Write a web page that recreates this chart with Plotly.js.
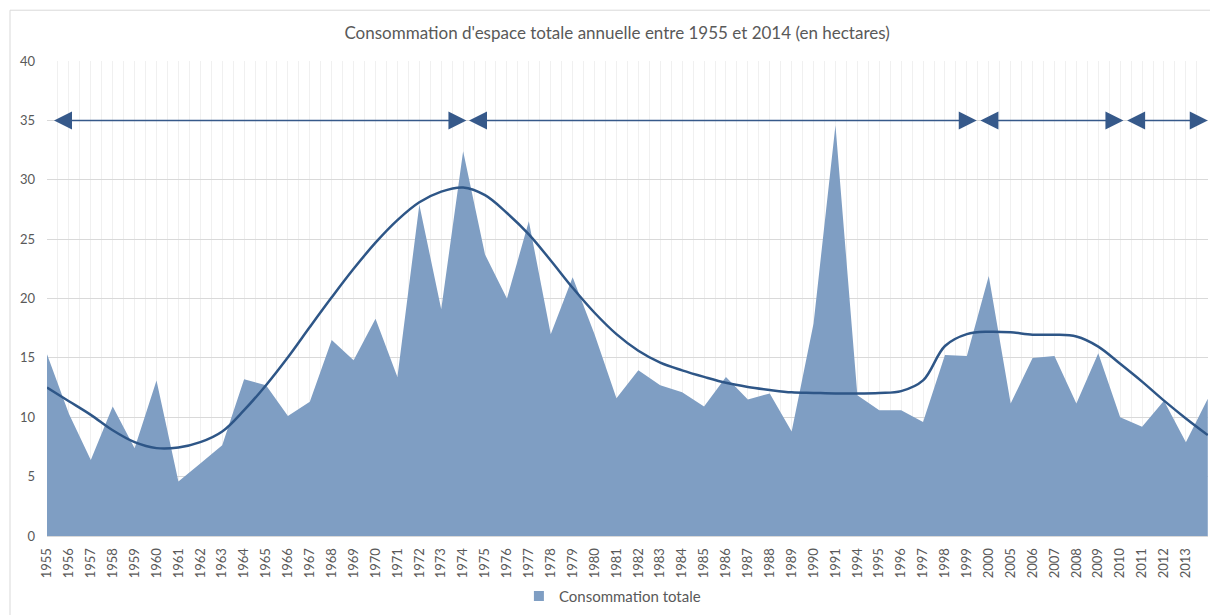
<!DOCTYPE html>
<html>
<head>
<meta charset="utf-8">
<script src="https://cdn.plot.ly/plotly-3.0.1.min.js"></script>
<style>
  html, body { margin: 0; padding: 0; background: #fff; }
  #graph_container { width: 1210px; height: 615px; }
</style>
</head>
<body>
<div id="graph_container"></div>
<script>
var years = ['1955','1956','1957','1958','1959','1960','1961','1962','1963','1964',
  '1965','1966','1967','1968','1969','1970','1971','1972','1973','1974',
  '1975','1976','1977','1978','1979','1980','1981','1982','1983','1984',
  '1985','1986','1987','1988','1989','1990','1991','1994','1995','1996',
  '1997','1998','1999','2000','2005','2006','2007','2008','2009','2010',
  '2011','2012','2013','2014'];

var consommation = [15.3,10.3,6.4,10.9,7.4,13.1,4.6,6.1,7.65,13.2,
  12.7,10.1,11.3,16.5,14.8,18.3,13.4,27.9,19.1,32.4,
  23.7,20.0,26.5,17.0,21.8,17.0,11.6,13.95,12.7,12.1,
  10.9,13.4,11.5,12.0,8.8,17.9,34.6,11.85,10.6,10.6,
  9.6,15.25,15.15,21.9,11.15,15.0,15.15,11.15,15.4,10.0,
  9.2,11.4,7.9,11.55];

var tendance = [12.5,11.35,10.2,8.9,7.9,7.4,7.45,7.9,8.8,10.6,
  12.7,15.05,17.6,20.1,22.5,24.7,26.6,28.1,29.0,29.35,
  28.7,27.2,25.4,23.2,20.9,18.8,17.0,15.6,14.6,13.95,
  13.4,12.9,12.55,12.3,12.1,12.05,12.0,12.0,12.05,12.2,
  13.1,16.0,17.0,17.2,17.15,16.95,16.95,16.8,15.95,14.5,
  13.0,11.4,9.9,8.5];

// periods shown by the double arrows at 35 ha (category index bounds)
var periodes = [[0.25, 19.15], [19.2, 42.45], [42.55, 49.15], [49.25, 53]];
var arrowLevel = 35;

var idx = years.map(function (y, i) { return i; });

var aire = {
  x: idx,
  y: consommation,
  type: 'scatter',
  mode: 'none',
  fill: 'tozeroy',
  fillcolor: '#7f9ec3',
  showlegend: false,
  hoverinfo: 'skip'
};

// legend entry shown as a small square, like the original
var aireLegende = {
  x: [null],
  y: [null],
  type: 'scatter',
  mode: 'markers',
  marker: { symbol: 'square', size: 10, color: '#7f9ec3' },
  name: 'Consommation totale'
};

var courbe = {
  x: idx,
  y: tendance,
  type: 'scatter',
  mode: 'lines',
  line: { color: '#2e5687', width: 2.5, shape: 'spline', smoothing: 1.0 },
  showlegend: false,
  hoverinfo: 'skip'
};

var fleches = periodes.map(function (p) {
  return {
    x: p[1], y: arrowLevel, ax: p[0], ay: arrowLevel,
    xref: 'x', yref: 'y', axref: 'x', ayref: 'y',
    text: '', showarrow: true,
    arrowside: 'end+start',
    arrowhead: 2, startarrowhead: 2,
    arrowsize: 2.4, startarrowsize: 2.4,
    arrowwidth: 1.5, arrowcolor: '#36598a'
  };
});

var W = 1210, H = 615, mL = 47, mR = 2, mT = 61, mB = 77;
var pw = W - mL - mR, ph = H - mT - mB;

var layout = {
  width: W, height: H,
  margin: { l: mL, r: mR, t: mT, b: mB, pad: 0 },
  paper_bgcolor: '#ffffff',
  plot_bgcolor: '#ffffff',
  font: { family: 'Lato, "Open Sans", sans-serif', color: '#595959', size: 13 },
  title: {
    text: "Consommation d'espace totale annuelle entre 1955 et 2014 (en hectares)",
    font: { size: 17, color: '#595959' },
    x: 0.51, xanchor: 'center', y: 0.946, yanchor: 'middle'
  },
  showlegend: true,
  legend: {
    orientation: 'h', x: 0.487, xanchor: 'center', y: -0.127, yanchor: 'middle',
    font: { size: 15, color: '#595959' }
  },
  xaxis: {
    range: [0, 53.01],
    tickmode: 'array',
    tickvals: idx,
    ticktext: years,
    tickangle: -90,
    ticks: '',
    ticklabelstandoff: 6,
    tickfont: { size: 13, color: '#595959' },
    showgrid: true,
    gridcolor: '#f0f0f0',
    gridwidth: 1,
    minor: { tickmode: 'linear', tick0: 0.5, dtick: 1, showgrid: true, gridcolor: '#f0f0f0', gridwidth: 1 },
    showline: true,
    linecolor: '#d9d9d9',
    linewidth: 1,
    zeroline: false,
    fixedrange: true
  },
  yaxis: {
    range: [0, 40],
    dtick: 5,
    ticks: '',
    ticklabelstandoff: 11,
    tickfont: { size: 13, color: '#595959' },
    gridcolor: '#d9d9d9',
    gridwidth: 1,
    zeroline: false,
    showline: false,
    fixedrange: true
  },
  annotations: fleches,
  shapes: [{
    type: 'rect', xref: 'paper', yref: 'paper',
    x0: (10 - mL) / pw, x1: 1.05,
    y0: -0.3, y1: (ph + mT - 10) / ph,
    line: { color: '#d9d9d9', width: 1 },
    fillcolor: 'rgba(0,0,0,0)', layer: 'below'
  }]
};

Plotly.newPlot('graph_container', [aire, courbe, aireLegende], layout, { staticPlot: true, displayModeBar: false });
</script>
</body>
</html>
